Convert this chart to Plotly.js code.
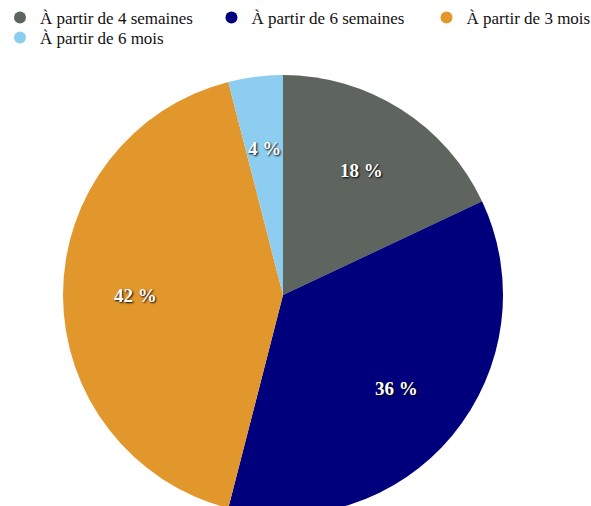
<!DOCTYPE html>
<html>
<head>
<meta charset="utf-8">
<script src="https://cdn.plot.ly/plotly-3.0.1.min.js"></script>
<style>
html, body { margin:0; padding:0; overflow:hidden; background:#fff; width:591px; height:506px; }
#chart { width:591px; height:515px; }
</style>
</head>
<body>
<div id="chart"></div>
<script>
const categories = ["À partir de 4 semaines", "À partir de 6 semaines", "À partir de 3 mois", "À partir de 6 mois"];
const values = [18, 36, 42, 4];
const colors = ["#5e645e", "#00007c", "#e2972c", "#8ccdf0"];

const labelFont = { family: "Liberation Serif", size: 19, color: "#ffffff", weight: "bold", shadow: "1px 1px 2px #000" };

// Slice labels: all placed at the same fraction of the radius, at each slice's mid-angle (computed from the data)
const total = values.reduce((a, b) => a + b, 0);
const annotations = [];
let cum = 0;
values.forEach((v, i) => {
  const mid = (cum + v / 2) / total * 2 * Math.PI;
  cum += v;
  annotations.push({
    xref: "paper", yref: "paper",
    xanchor: "center", yanchor: "middle",
    x: 0.5 + 0.335 * Math.sin(mid),
    y: 0.5 + 0.335 * Math.cos(mid),
    text: values[i] + " %",
    showarrow: false,
    font: labelFont
  });
});

const pie = {
  type: "pie",
  labels: categories,
  values: values,
  sort: false,
  direction: "clockwise",
  rotation: 0,
  marker: { colors: colors, line: { width: 0 } },
  textinfo: "none",
  hoverinfo: "label+percent",
  showlegend: false
};

const legendIds = ["legend", "legend2", "legend3", "legend4"];
const legendTraces = categories.map((c, i) => ({
  type: "scatter",
  mode: "markers",
  x: [null], y: [null],
  name: c,
  legend: legendIds[i],
  marker: { color: colors[i], size: 13, symbol: "circle" },
  showlegend: true,
  hoverinfo: "skip"
}));

const W = 591, H = 515;
const legBase = {
  orientation: "h",
  xref: "container", yref: "container",
  xanchor: "left", yanchor: "top",
  font: { family: "Liberation Serif", size: 17, color: "#111" },
  itemsizing: "constant",
  bgcolor: "rgba(0,0,0,0)"
};
const x0 = -4.5 / W;
const row1 = 1, row2 = 1 - 20 / H;

const layout = {
  width: W,
  height: H,
  margin: { l: 63, r: 88, t: 75, b: 0, autoexpand: false },
  paper_bgcolor: "#ffffff",
  plot_bgcolor: "#ffffff",
  xaxis: { visible: false },
  yaxis: { visible: false },
  showlegend: true,
  annotations: annotations,
  legend: Object.assign({}, legBase, { x: x0, y: row1 }),
  legend2: Object.assign({}, legBase, { x: x0 + 216 / W, y: row1 }),
  legend3: Object.assign({}, legBase, { x: x0 + 431 / W, y: row1 }),
  legend4: Object.assign({}, legBase, { x: x0, y: row2 })
};

Plotly.newPlot("chart", [pie, ...legendTraces], layout, { displayModeBar: false, staticPlot: true });
</script>
</body>
</html>
